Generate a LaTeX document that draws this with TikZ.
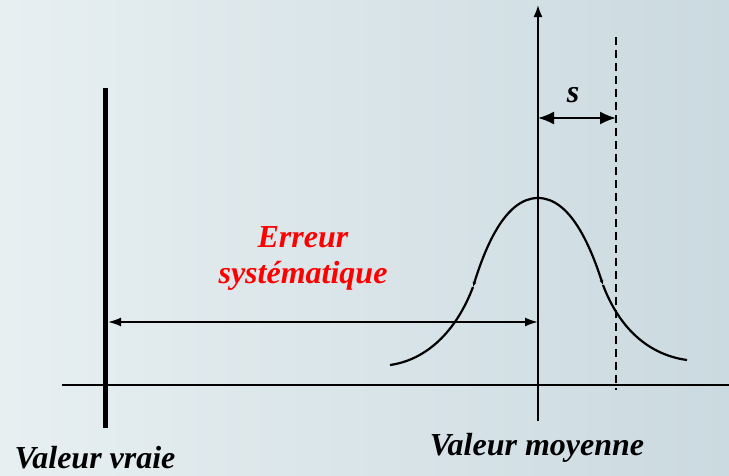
\documentclass[tikz,border=0pt]{standalone}
\usepackage{fontspec}
\setmainfont{Liberation Serif}
\newfontfamily\labfont{LiberationSerif-BoldItalic.ttf}
\usepackage{xcolor}
\usepackage{tikz}
\usetikzlibrary{arrows.meta, positioning}
\definecolor{BgLeft}{HTML}{E7EFF1}
\definecolor{BgRight}{HTML}{CBDAE0}
\definecolor{ErrRed}{HTML}{FF0000}

\begin{document}
\begin{tikzpicture}[x=1pt, y=-1pt, >=Latex,
  txt/.style={font=\labfont\fontsize{32}{34}\selectfont, inner sep=0pt, anchor=base},
  axis/.style={line width=1.8pt},
  bell/.style={line width=2.2pt}]
  \shade[left color=BgLeft, right color=BgRight] (0,0) rectangle (729,475);
  \useasboundingbox (0,0) rectangle (729,475);

  % points of the axes
  \coordinate (xstart) at (62,385);
  \coordinate (xend) at (729,385);
  \coordinate (vtop) at (105,88);
  \coordinate (vbot) at (105,428);
  \coordinate (mtop) at (538,5);
  \coordinate (mbot) at (538,421);
  \coordinate (dtop) at (616,37);
  \coordinate (dbot) at (616,390);

  % bell curve
  \coordinate (peak) at (538,198);
  \coordinate (inflL) at (473,287);
  \coordinate (inflR) at (603,285);
  \coordinate (endL) at (390,365);
  \coordinate (endR) at (687,360);

  % arrows
  \coordinate (errL) at (105,322);
  \coordinate (errR) at (538,322);
  \coordinate (sL) at (538,118);
  \coordinate (sR) at (616,118);

  \draw[axis] (xstart) -- (xend);
  \draw[line width=5pt] (vtop) -- (vbot);
  \draw[axis, -{Latex[length=12pt,width=9pt]}] (mbot) -- (mtop);
  \draw[line width=2pt, dash pattern=on 8pt off 5pt] (dtop) -- (dbot);

  \draw[bell, -{Latex[length=5pt,width=4pt]}] (peak) .. controls (570,198) and (590,245) .. (inflR);
  \draw[bell] (inflR) .. controls (620,330) and (650,355) .. (endR);
  \draw[bell, -{Latex[length=5pt,width=4pt]}] (peak) .. controls (506,198) and (486,245) .. (inflL);
  \draw[bell] (inflL) .. controls (456,332) and (426,360) .. (endL);

  \draw[axis, {Latex[length=13pt,width=9pt]}-{Latex[length=13pt,width=9pt]}] ([xshift=3pt]errL) -- (errR);
  \draw[line width=2pt, {Latex[length=16pt,width=13pt]}-{Latex[length=16pt,width=13pt]}] (sL) -- (sR);

  \node[txt] (s) at (573,102) {s};
  \node[txt, text=ErrRed] (erreur) at (303,247) {Erreur};
  \node[txt, text=ErrRed] (syst) at (303,283) {systématique};
  \node[txt] (vraie) at (95,468) {Valeur vraie};
  \node[txt] (moyenne) at (537,455) {Valeur moyenne};
\end{tikzpicture}
\end{document}
